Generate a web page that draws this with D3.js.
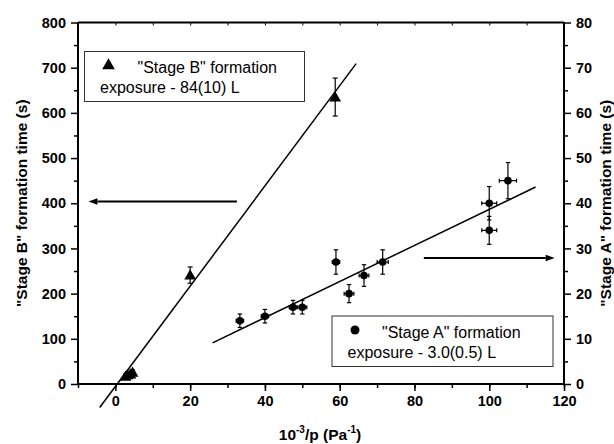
<!DOCTYPE html>
<html>
<head>
<meta charset="utf-8">
<script src="https://cdn.jsdelivr.net/npm/d3@7"></script>
<style>
  body { margin: 0; background: #fff; }
  svg { display: block; font-family: "Liberation Sans", Arial, sans-serif; }
</style>
</head>
<body>
<svg id="chart" width="614" height="444"></svg>
<script>
// Stage B (left axis, triangles)
const stageBX = [2.7, 3.3, 4.0, 4.6, 20, 58.8];
const stageBY = [17, 20, 22, 26, 241, 635];
const stageBErr = [5, 5, 5, 5, 18, 42];

// Stage A (right axis, circles)
const stageAX = [33.3, 40, 47.5, 50, 59, 62.5, 66.5, 71.5, 100, 100, 105];
const stageAY = [14, 15, 17, 17, 27, 20, 24, 27, 40, 34, 45];
const stageAErrY = [1.5, 1.5, 1.5, 1.5, 2.7, 2, 2.4, 2.7, 3.7, 3.1, 4];
const stageAErrX = [1, 1, 1, 1.2, 1, 1.3, 1.3, 1.5, 2, 2, 2.3];

// fit lines: [x, y] end points
const fitB = [[-4.2, -52], [64.4, 709]];
const fitA = [[26, 9.1], [112.4, 43.6]];

// arrows: x from, x to, level (axis units)
const arrowB = { from: 32.5, to: -7.2, y: 405 };
const arrowA = { from: 82.5, to: 117.5, y: 28 };

const xTicks = [0, 20, 40, 60, 80, 100, 120];
const leftTicks = [0, 100, 200, 300, 400, 500, 600, 700, 800];
const rightTicks = [0, 10, 20, 30, 40, 50, 60, 70, 80];

const svg = d3.select('#chart');
const m = { left: 78, right: 564, top: 22.5, bottom: 384 };

const x = d3.scaleLinear().domain([-10, 120]).range([m.left, m.right]);
const yL = d3.scaleLinear().domain([0, 800]).range([m.bottom, m.top]);
const yR = d3.scaleLinear().domain([0, 80]).range([m.bottom, m.top]);

const tickFont = (g) => g.selectAll('text')
  .attr('font-size', 14.5).attr('font-weight', 'bold').attr('fill', '#000');

// bottom axis
const gx = svg.append('g').attr('transform', `translate(0,${m.bottom})`);
gx.call(d3.axisBottom(x).tickValues(d3.range(-10, 121, 10)).tickSize(4).tickFormat(''));
gx.append('g').call(d3.axisBottom(x).tickValues(xTicks).tickSize(7).tickPadding(5));
gx.selectAll('.domain').attr('stroke-width', 2).attr('d', `M${m.left},0H${m.right}`);
gx.selectAll('line').attr('stroke-width', 1.5);
tickFont(gx);

// top axis (inner ticks)
const gt = svg.append('g').attr('transform', `translate(0,${m.top})`);
gt.call(d3.axisTop(x).tickValues(d3.range(0, 120, 10)).tickSize(-3).tickFormat(''));
gt.selectAll('.domain').attr('stroke-width', 2).attr('d', `M${m.left},0H${m.right}`);

// left axis
const gl = svg.append('g').attr('transform', `translate(${m.left},0)`);
gl.call(d3.axisLeft(yL).tickValues(d3.range(50, 800, 100)).tickSize(4).tickFormat(''));
gl.append('g').call(d3.axisLeft(yL).tickValues(leftTicks).tickSize(7).tickPadding(5));
gl.selectAll('.domain').attr('stroke-width', 2).attr('d', `M0,${m.top}V${m.bottom}`);
gl.selectAll('line').attr('stroke-width', 1.5);
tickFont(gl);

// right axis
const gr = svg.append('g').attr('transform', `translate(${m.right},0)`);
gr.call(d3.axisRight(yR).tickValues(d3.range(5, 80, 10)).tickSize(4).tickFormat(''));
gr.append('g').call(d3.axisRight(yR).tickValues(rightTicks).tickSize(7).tickPadding(5));
gr.selectAll('.domain').attr('stroke-width', 2).attr('d', `M0,${m.top}V${m.bottom}`);
gr.selectAll('line').attr('stroke-width', 1.5);
tickFont(gr);

// axis titles
svg.append('text')
  .attr('transform', `translate(27,${(m.top + m.bottom) / 2}) rotate(-90)`)
  .attr('text-anchor', 'middle').attr('font-size', 15.5).attr('font-weight', 'bold')
  .text('"Stage B" formation time (s)');
svg.append('text')
  .attr('transform', `translate(611,${(m.top + m.bottom) / 2}) rotate(-90)`)
  .attr('text-anchor', 'middle').attr('font-size', 15.5).attr('font-weight', 'bold')
  .text('"Stage A" formation time (s)');
const xt = svg.append('text')
  .attr('x', (m.left + m.right) / 2 - 1).attr('y', 440)
  .attr('text-anchor', 'middle').attr('font-size', 15.5).attr('font-weight', 'bold');
xt.append('tspan').text('10');
xt.append('tspan').attr('font-size', 10).attr('dy', -7).text('-3');
xt.append('tspan').attr('dy', 7).text('/p (Pa');
xt.append('tspan').attr('font-size', 10).attr('dy', -7).text('-1');
xt.append('tspan').attr('dy', 7).text(')');

// fit lines
const line = d3.line();
svg.append('path')
  .attr('d', line(fitB.map(([a, b]) => [x(a), yL(b)])))
  .attr('stroke', '#000').attr('stroke-width', 1.5).attr('fill', 'none');
svg.append('path')
  .attr('d', line(fitA.map(([a, b]) => [x(a), yR(b)])))
  .attr('stroke', '#000').attr('stroke-width', 1.5).attr('fill', 'none');

// arrows
function arrow(x0, x1, yy) {
  const dir = Math.sign(x1 - x0);
  const head = 9;
  svg.append('line')
    .attr('x1', x0).attr('x2', x1 - dir * head).attr('y1', yy).attr('y2', yy)
    .attr('stroke', '#000').attr('stroke-width', 2.2);
  svg.append('path')
    .attr('d', `M${x1},${yy}L${x1 - dir * head},${yy - 3.2}L${x1 - dir * head},${yy + 3.2}Z`)
    .attr('fill', '#000');
}
arrow(x(arrowB.from), x(arrowB.to), yL(arrowB.y) + 0.5);
arrow(x(arrowA.from), x(arrowA.to), yR(arrowA.y) + 0.5);

// error bars helper
function vErr(cx, y0, y1, cap) {
  const g = svg.append('g').attr('stroke', '#000').attr('stroke-width', 1.2);
  g.append('line').attr('x1', cx).attr('x2', cx).attr('y1', y0).attr('y2', y1);
  g.append('line').attr('x1', cx - cap).attr('x2', cx + cap).attr('y1', y0).attr('y2', y0);
  g.append('line').attr('x1', cx - cap).attr('x2', cx + cap).attr('y1', y1).attr('y2', y1);
}
function hErr(cy, x0, x1, cap) {
  const g = svg.append('g').attr('stroke', '#000').attr('stroke-width', 1.2);
  g.append('line').attr('x1', x0).attr('x2', x1).attr('y1', cy).attr('y2', cy);
  g.append('line').attr('x1', x0).attr('x2', x0).attr('y1', cy - cap).attr('y2', cy + cap);
  g.append('line').attr('x1', x1).attr('x2', x1).attr('y1', cy - cap).attr('y2', cy + cap);
}

// Stage A points
stageAX.forEach((v, i) => {
  const cx = x(v), cy = yR(stageAY[i]);
  vErr(cx, yR(stageAY[i] - stageAErrY[i]), yR(stageAY[i] + stageAErrY[i]), 2.2);
  hErr(cy, x(v - stageAErrX[i]), x(v + stageAErrX[i]), 2);
});
svg.append('g').selectAll('circle').data(stageAX).join('circle')
  .attr('cx', (d) => x(d)).attr('cy', (d, i) => yR(stageAY[i])).attr('r', 3.8).attr('fill', '#000');

// Stage B points
const tri = d3.symbol().type(d3.symbolTriangle).size(60);
stageBX.forEach((v, i) => {
  vErr(x(v), yL(stageBY[i] - stageBErr[i]), yL(stageBY[i] + stageBErr[i]), 2.5);
});
svg.append('g').selectAll('path').data(stageBX).join('path')
  .attr('d', tri)
  .attr('transform', (d, i) => `translate(${x(d)},${yL(stageBY[i]) + 1})`)
  .attr('fill', '#000');

// legends
function legend(bx, by, w, h, sym, l1, l2, tx) {
  const g = svg.append('g');
  g.append('rect').attr('x', bx).attr('y', by).attr('width', w).attr('height', h)
    .attr('fill', '#fff').attr('stroke', '#333').attr('stroke-width', 1);
  if (sym === 'tri') {
    g.append('path').attr('d', d3.symbol().type(d3.symbolTriangle).size(70))
      .attr('transform', `translate(${bx + 24},${by + 14})`).attr('fill', '#000');
  } else {
    g.append('circle').attr('cx', bx + 23).attr('cy', by + 14).attr('r', 4.5).attr('fill', '#000');
  }
  g.append('text').attr('x', bx + tx[0]).attr('y', by + 21.5).attr('font-size', 16).text(l1);
  g.append('text').attr('x', bx + tx[1]).attr('y', by + 41.5).attr('font-size', 16).text(l2);
}
legend(84.5, 51.5, 220, 50, 'tri', '"Stage B" formation', 'exposure - 84(10) L', [53, 15.5]);
legend(332, 316, 221, 50.5, 'circ', '"Stage A" formation', 'exposure - 3.0(0.5) L', [50, 15.5]);
</script>
</body>
</html>
